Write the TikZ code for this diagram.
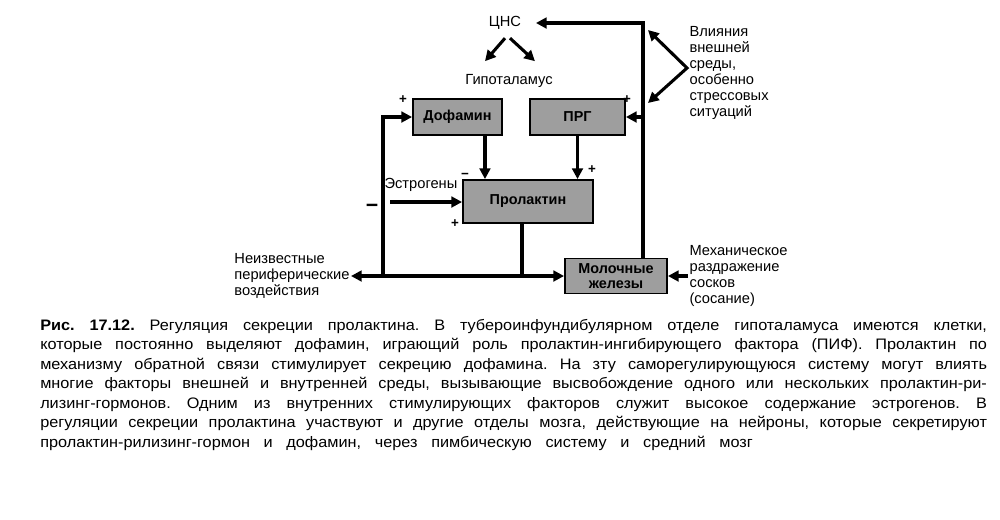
\documentclass[tikz,border=0pt]{standalone}
\usepackage{fontspec}
\setmainfont{Liberation Sans}
\newfontfamily\capfont{Liberation Sans}[FakeStretch=1.07]
\usetikzlibrary{arrows.meta,calc}

\tikzset{
  hbox/.style={draw,line width=1.4pt,fill=black!38,inner sep=0pt,
    font=\fontsize{10.8}{11.5}\selectfont\bfseries},
  conn/.style={line width=2.3pt},
  arr/.style={conn,-{Triangle[length=8pt,width=8pt]}},
  lbl/.style={font=\fontsize{11}{12}\selectfont,inner sep=1pt},
  sgn/.style={font=\fontsize{10}{10}\selectfont\bfseries,inner sep=0pt},
}

\begin{document}
\begin{tikzpicture}[x=0.75pt,y=-0.75pt]
\useasboundingbox (0,0) rectangle (1000,519);

% blocks
\node[hbox,minimum width=66.75pt,minimum height=27pt] (dof) at (457.5,117) {Дофамин};
\node[hbox,minimum width=71.25pt,minimum height=27pt] (prg) at (577.5,117) {ПРГ};
\node[hbox,minimum width=97.5pt,minimum height=32.25pt] (prl) at (528,201.5) {Пролактин};
\node[hbox,minimum width=76.5pt,minimum height=26.25pt,align=center] (mol) at (616,276) {Молочные\\железы};

% labels
\node[lbl] (cns) at (505,23) {ЦНС};
\node[lbl] (hyp) at (509,81) {Гипоталамус};
\node[lbl,anchor=west,align=left] (env) at (688,73) {Влияния\\внешней\\среды,\\особенно\\стрессовых\\ситуаций};
\node[lbl,anchor=west] (estr) at (383,185) {Эстрогены};
\node[lbl,anchor=east,align=left] (periph) at (351,276) {Неизвестные\\периферические\\воздействия};
\node[lbl,anchor=west,align=left] (mech) at (688,276) {Механическое\\раздражение\\сосков\\(сосание)};

\coordinate (tr) at (643,23);
\coordinate (jl) at (383,276);
\coordinate (estin) at (390,202);
\coordinate (vtx) at (687,68);
\coordinate (vtop) at (648,30);
\coordinate (vbot) at (648,103);

% connections
\draw[arr] ($(cns.south)+(0,7)$) -- +(-20,23);
\draw[arr] ($(cns.south)+(5,7)$) -- +(25,23);
\draw[arr] (tr |- mol.north) -- (tr) -- ([xshift=10pt]cns.east);
\draw[arr] (prg.east -| tr) -- (prg.east);
\draw[conn,{Triangle[length=8pt,width=8pt]}-{Triangle[length=8pt,width=8pt]}] (vtop) -- (vtx) -- (vbot);
\draw[arr] ([xshift=20.6pt]dof.south) -- ([xshift=20.6pt]dof.south |- prl.north);
\draw[arr] (prg.south) -- (prg.south |- prl.north);
\draw[arr] (estin) -- (estin -| prl.west);
\draw[arr] (jl) |- (dof.west);
\draw[conn] ([xshift=-4.5pt]prl.south) -- ([xshift=-4.5pt]prl.south |- mol.west);
\draw[conn,{Triangle[length=8pt,width=8pt]}-{Triangle[length=8pt,width=8pt]}] (periph.east) -- (mol.west);
\draw[arr] (mech.west) -- (mol.east);

% signs
\node[sgn] (s1) at (403,100) {+};
\node[sgn] (s2) at (627,100) {+};
\node[sgn] (s3) at (592,170) {+};
\node[sgn] (s4) at (455,224) {+};
\node[sgn] (s5) at (465,176) {−};
\node[sgn,font=\fontsize{16}{16}\selectfont\bfseries] (s6) at (372,208) {−};

% caption
\node[anchor=north west,text width=710pt,align=justify,inner sep=0pt,
  font=\capfont\fontsize{11.4}{14.6}\selectfont\frenchspacing] (caption) at (40,319) {%
\spaceskip=0.4em plus 0.8em minus 0.12em\relax
\textbf{Рис. 17.12.} Регуляция секреции пролактина. В тубероинфундибулярном отделе гипоталамуса имеются клетки,\linebreak
которые постоянно выделяют дофамин, играющий роль пролактин-ингибирующего фактора (ПИФ). Пролактин по\linebreak
механизму обратной связи стимулирует секрецию дофамина. На зту саморегулирующуюся систему могут влиять\linebreak
многие факторы внешней и внутренней среды, вызывающие высвобождение одного или нескольких пролактин-ри-\linebreak
лизинг-гормонов. Одним из внутренних стимулирующих факторов служит высокое содержание эстрогенов. В\linebreak
регуляции секреции пролактина участвуют и другие отделы мозга, действующие на нейроны, которые секретируют\linebreak
{\spaceskip=0.9em plus 0.2em minus 0.1em\relax пролактин-рилизинг-гормон и дофамин, через пимбическую систему и средний мозг}};
\end{tikzpicture}
\end{document}
